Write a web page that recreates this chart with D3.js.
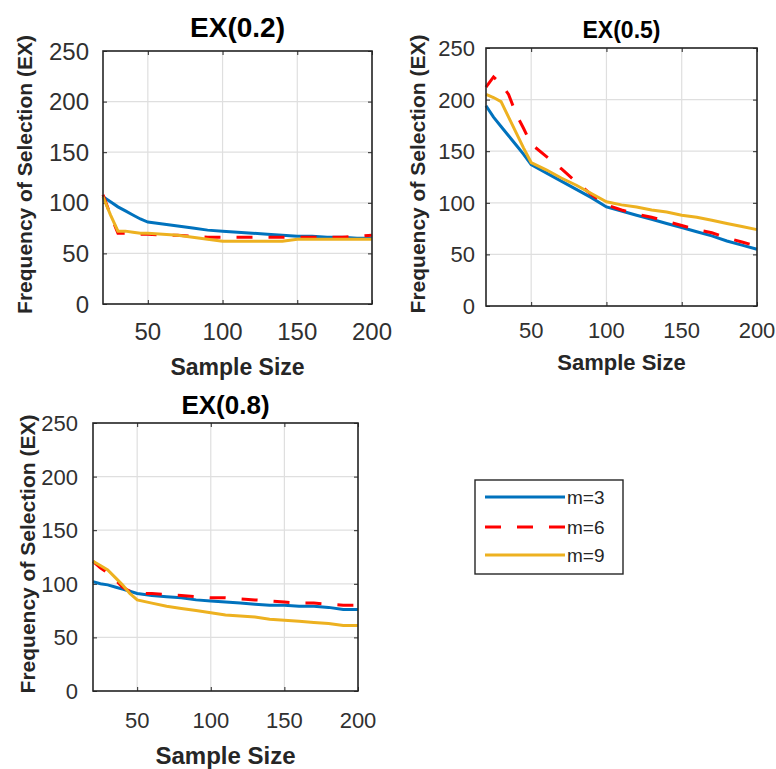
<!DOCTYPE html>
<html><head><meta charset="utf-8">
<script src="https://cdnjs.cloudflare.com/ajax/libs/d3/7.8.5/d3.min.js"></script>
<style>body{margin:0;background:#fff}svg{display:block}text{font-family:"Liberation Sans",Arial,Helvetica,sans-serif}</style>
</head><body>
<script>
// ---- data ----
const sampleSizes = [20,25,30,35,40,45,50,60,70,80,90,100,110,120,130,140,150,160,170,180,190,200];
const seriesNames = ["m=3","m=6","m=9"];
const panelTitles = ["EX(0.2)","EX(0.5)","EX(0.8)"];
const ex02_m3 = [106,101,96,92,88,84,81,79,77,75,73,72,71,70,69,68,67,67,66,66,65,65];
const ex02_m6 = [108,88,70,70,70,69,69,68,68,67,66,66,66,66,66,66,66,66,66,66,67,68];
const ex02_m9 = [106,88,72,72,71,70,70,69,68,66,64,62,62,62,62,62,64,64,64,64,64,64];
const ex05_m3 = [194,183,174,165,156,147,137,129,121,113,105,96,92,88,84,80,76,72,68,63,59,55];
const ex05_m6 = [212,222,215,205,186,172,157,145,133,120,108,98,93,89,86,82,78,74,71,66,62,58];
const ex05_m9 = [205,202,198,183,168,153,139,132,124,117,109,101,98,96,93,91,88,86,83,80,77,74];
const ex08_m3 = [102,100,99,97,95,93,91,89,88,87,85,84,83,82,81,80,80,79,79,78,76,76];
const ex08_m6 = [121,115,110,104,97,93,91,91,90,89,88,87,87,86,85,84,83,82,82,81,80,80];
const ex08_m9 = [121,117,113,106,99,91,85,82,79,77,75,73,71,70,69,67,66,65,64,63,61,61];
const xTicks = [50,100,150,200];
const yTicks = [0,50,100,150,200,250];
const yLabel = "Frequency of Selection (EX)";
const xLabel = "Sample Size";

const colors = ["#0072BD","#FF0000","#EDB120"];
const dashes = [null,"16,16",null];

const svg = d3.select("body").append("svg").attr("width",776).attr("height",769);

const panels = [
  {title:panelTitles[0], data:[ex02_m3,ex02_m6,ex02_m9], L:103,R:372,T:51,B:304,
   titleY:37,titleSize:28, tickSize:24, tickGap:14, xTickY:340, xlabY:375, xlabSize:23, ylabX:32},
  {title:panelTitles[1], data:[ex05_m3,ex05_m6,ex05_m9], L:486,R:757,T:48,B:306,
   titleY:38,titleSize:23, tickSize:22, tickGap:11, xTickY:338, xlabY:370, xlabSize:22, ylabX:425},
  {title:panelTitles[2], data:[ex08_m3,ex08_m6,ex08_m9], L:93,R:358,T:423,B:691,
   titleY:414,titleSize:26, tickSize:22, tickGap:15, xTickY:728, xlabY:764, xlabSize:24, ylabX:35}
];

panels.forEach(p=>{
  const x = d3.scaleLinear().domain([20,200]).range([p.L,p.R]);
  const y = d3.scaleLinear().domain([0,250]).range([p.B,p.T]);
  const g = svg.append("g");
  // grid
  g.append("g").selectAll("line").data(xTicks).join("line")
    .attr("x1",d=>x(d)).attr("x2",d=>x(d)).attr("y1",p.T).attr("y2",p.B)
    .attr("stroke","#dfdfdf").attr("stroke-width",1.2);
  g.append("g").selectAll("line").data(yTicks).join("line")
    .attr("x1",p.L).attr("x2",p.R).attr("y1",d=>y(d)).attr("y2",d=>y(d))
    .attr("stroke","#dfdfdf").attr("stroke-width",1.2);
  // axes (inner ticks)
  const ax = g.append("g").attr("transform",`translate(0,${p.B})`)
    .call(d3.axisBottom(x).tickValues(xTicks).tickSizeInner(-4).tickSizeOuter(0).tickFormat(""));
  const axT = g.append("g").attr("transform",`translate(0,${p.T})`)
    .call(d3.axisTop(x).tickValues(xTicks).tickSizeInner(-4).tickSizeOuter(0).tickFormat(""));
  const ay = g.append("g").attr("transform",`translate(${p.L},0)`)
    .call(d3.axisLeft(y).tickValues(yTicks).tickSizeInner(-4).tickSizeOuter(0).tickFormat(""));
  const ayR = g.append("g").attr("transform",`translate(${p.R},0)`)
    .call(d3.axisRight(y).tickValues(yTicks).tickSizeInner(-4).tickSizeOuter(0).tickFormat(""));
  [ax,axT,ay,ayR].forEach(a=>{a.select(".domain").remove(); a.selectAll("line").attr("stroke","#262626");});
  // lines
  const line = d3.line().x((d,i)=>x(sampleSizes[i])).y(d=>y(d));
  p.data.forEach((s,k)=>{
    g.append("path").datum(s).attr("d",line).attr("fill","none")
      .attr("stroke",colors[k]).attr("stroke-width",3)
      .attr("stroke-dasharray",dashes[k]);
  });
  // box
  g.append("rect").attr("x",p.L).attr("y",p.T).attr("width",p.R-p.L).attr("height",p.B-p.T)
    .attr("fill","none").attr("stroke","#262626").attr("stroke-width",1.6);
  // tick labels
  g.append("g").selectAll("text").data(xTicks).join("text")
    .attr("x",d=>x(d)).attr("y",p.xTickY).attr("text-anchor","middle")
    .attr("font-size",p.tickSize).attr("fill","#303030").text(d=>d);
  g.append("g").selectAll("text").data(yTicks).join("text")
    .attr("x",p.L-p.tickGap).attr("y",d=>y(d)).attr("dy","0.36em").attr("text-anchor","end")
    .attr("font-size",p.tickSize).attr("fill","#303030").text(d=>d);
  // title
  g.append("text").attr("x",(p.L+p.R)/2).attr("y",p.titleY).attr("text-anchor","middle")
    .attr("font-size",p.titleSize).attr("font-weight","bold").attr("fill","#000").text(p.title);
  // x label
  g.append("text").attr("x",(p.L+p.R)/2).attr("y",p.xlabY).attr("text-anchor","middle")
    .attr("font-size",p.xlabSize).attr("font-weight","bold").attr("fill","#262626").text(xLabel);
  // y label
  g.append("text").attr("transform",`translate(${p.ylabX},${(p.T+p.B)/2 - 3}) rotate(-90)`)
    .attr("text-anchor","middle").attr("font-size",21).attr("font-weight","bold")
    .attr("fill","#262626").text(yLabel);
});

// legend
const lg = svg.append("g");
lg.append("rect").attr("x",475).attr("y",480).attr("width",148).attr("height",94)
  .attr("fill","#fff").attr("stroke","#262626").attr("stroke-width",1.4);
const rowsY = [497,527,555];
seriesNames.forEach((n,k)=>{
  lg.append("line").attr("x1",485).attr("x2",565).attr("y1",rowsY[k]).attr("y2",rowsY[k])
    .attr("stroke",colors[k]).attr("stroke-width",3).attr("stroke-dasharray",dashes[k]);
  lg.append("text").attr("x",567).attr("y",rowsY[k]).attr("dy","0.36em")
    .attr("font-size",19).attr("fill","#262626").text(n);
});
</script>
</body></html>
